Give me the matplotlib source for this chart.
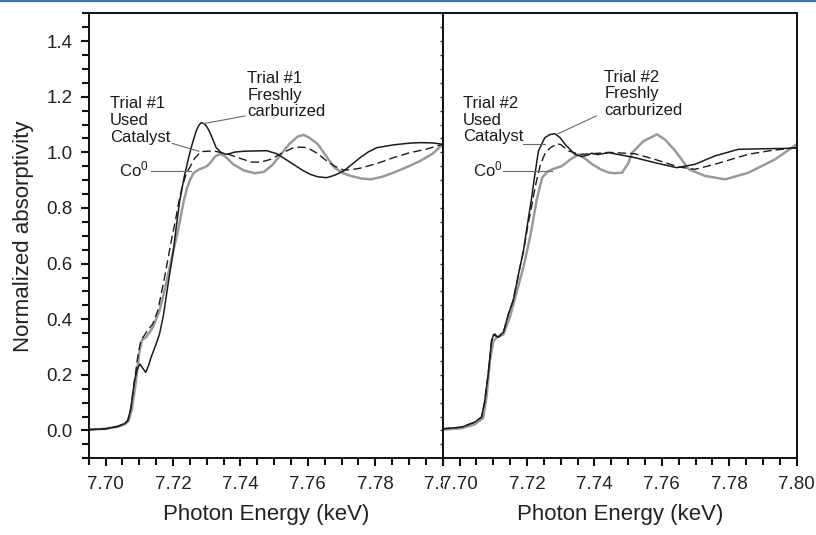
import matplotlib
matplotlib.use("Agg")
import matplotlib.pyplot as plt
from matplotlib.ticker import FixedLocator, MultipleLocator, FormatStrFormatter
from matplotlib.lines import Line2D
from matplotlib.transforms import Bbox, TransformedBbox

plt.rcParams['font.family'] = ['Liberation Sans', 'DejaVu Sans']
plt.rcParams['mathtext.fontset'] = 'custom'
plt.rcParams['mathtext.rm'] = 'Liberation Sans'
plt.rcParams['mathtext.it'] = 'Liberation Sans:italic'

# ---------------- Trial #1 (left panel) ----------------
t1_fresh_x = [7.6950, 7.7000, 7.7037, 7.7057, 7.7066, 7.7075, 7.7086, 7.7094, 7.7102, 7.7108,
              7.7119, 7.7128, 7.7135, 7.7150, 7.7160, 7.7171, 7.7186, 7.7201, 7.7210, 7.7220,
              7.7233, 7.7244, 7.7254, 7.7262, 7.7269, 7.7277, 7.7284, 7.7291, 7.7299, 7.7306,
              7.7314, 7.7328, 7.7343, 7.7358, 7.7370,
              7.7383, 7.7410, 7.7440, 7.7478, 7.7508, 7.7530, 7.7557, 7.7585, 7.7607, 7.7630,
              7.7656, 7.7680, 7.7706, 7.7730, 7.7755, 7.7780, 7.7805, 7.7854, 7.7900, 7.7933,
              7.7970, 7.8000]
t1_fresh_y = [0.003, 0.006, 0.015, 0.025, 0.036, 0.080, 0.180, 0.220, 0.239, 0.228,
              0.209, 0.235, 0.263, 0.311, 0.347, 0.410, 0.530, 0.646, 0.735, 0.826,
              0.910, 0.969, 1.017, 1.050, 1.077, 1.098, 1.107, 1.104, 1.095, 1.080,
              1.059, 1.017, 0.999, 0.993, 0.996,
              1.001, 1.004, 1.005, 1.006, 0.995, 0.978, 0.957, 0.935, 0.921, 0.912,
              0.909, 0.918, 0.933, 0.956, 0.981, 1.002, 1.017, 1.027, 1.033, 1.035,
              1.034, 1.029]

t1_used_x = [7.6950, 7.7000, 7.7037, 7.7057, 7.7066, 7.7075, 7.7086, 7.7096, 7.7105, 7.7111,
             7.7125, 7.7140, 7.7155, 7.7175, 7.7195, 7.7208, 7.7218, 7.7228, 7.7240, 7.7252,
             7.7265, 7.7284, 7.7321, 7.7360, 7.7400, 7.7434, 7.7460, 7.7490, 7.7520, 7.7545,
             7.7562, 7.7590, 7.7607, 7.7630, 7.7656, 7.7680, 7.7706, 7.7730, 7.7755, 7.7805,
             7.7854, 7.7900, 7.7950, 7.8000]
t1_used_y = [0.003, 0.006, 0.015, 0.025, 0.036, 0.080, 0.180, 0.270, 0.325, 0.335,
             0.360, 0.383, 0.431, 0.550, 0.682, 0.760, 0.826, 0.880, 0.925, 0.951,
             0.980, 1.003, 1.005, 0.995, 0.978, 0.965, 0.965, 0.975, 0.995, 1.010,
             1.019, 1.018, 1.011, 0.995, 0.969, 0.950, 0.936, 0.938, 0.943, 0.960,
             0.981, 0.998, 1.011, 1.029]

t1_co_x = [7.6950, 7.7000, 7.7037, 7.7057, 7.7068, 7.7078, 7.7090, 7.7100, 7.7108, 7.7120,
           7.7140, 7.7160, 7.7180, 7.7200, 7.7215, 7.7232, 7.7242, 7.7252, 7.7262, 7.7280,
           7.7291, 7.7300, 7.7311, 7.7325, 7.7340, 7.7355, 7.7379, 7.7410, 7.7443, 7.7470,
           7.7495, 7.7518, 7.7545, 7.7570, 7.7588, 7.7605, 7.7630, 7.7655, 7.7679, 7.7705,
           7.7728, 7.7760, 7.7787, 7.7820, 7.7854, 7.7890, 7.7933, 7.7970, 7.8000]
t1_co_y = [0.003, 0.006, 0.014, 0.022, 0.034, 0.075, 0.175, 0.280, 0.325, 0.335,
           0.370, 0.430, 0.530, 0.640, 0.720, 0.826, 0.873, 0.905, 0.927, 0.940,
           0.945, 0.950, 0.963, 0.985, 0.995, 0.985, 0.957, 0.935, 0.925, 0.930,
           0.955, 0.990, 1.030, 1.057, 1.063, 1.052, 1.029, 0.985, 0.945, 0.925,
           0.915, 0.906, 0.903, 0.912, 0.927, 0.945, 0.969, 0.995, 1.029]

# ---------------- Trial #2 (right panel) ----------------
t2_fresh_x = [7.6949, 7.7006, 7.7045, 7.7065, 7.7074, 7.7085, 7.7095, 7.7101, 7.7105, 7.7110,
              7.7115, 7.7122, 7.7130, 7.7145, 7.7159, 7.7179, 7.7190, 7.7203, 7.7213, 7.7222,
              7.7234, 7.7253, 7.7268, 7.7283, 7.7298, 7.7313, 7.7342, 7.7362, 7.7380, 7.7392,
              7.7410, 7.7442, 7.7460, 7.7520, 7.7579, 7.7644, 7.7698, 7.7757, 7.7827, 7.7906,
              7.8000]
t2_fresh_y = [0.006, 0.012, 0.030, 0.048, 0.100, 0.204, 0.323, 0.345, 0.347, 0.338,
              0.335, 0.345, 0.353, 0.419, 0.467, 0.586, 0.650, 0.754, 0.830, 0.909,
              1.005, 1.053, 1.064, 1.067, 1.053, 1.029, 0.993, 0.985, 0.990, 0.997,
              0.992, 0.999, 0.995, 0.981, 0.963, 0.945, 0.957, 0.987, 1.011, 1.013,
              1.015]

t2_used_x = [7.6949, 7.7006, 7.7045, 7.7065, 7.7074, 7.7085, 7.7095, 7.7101, 7.7108, 7.7115,
             7.7122, 7.7130, 7.7145, 7.7159, 7.7179, 7.7190, 7.7203, 7.7213, 7.7225, 7.7240,
             7.7255, 7.7270, 7.7289, 7.7300, 7.7324, 7.7354, 7.7394, 7.7442, 7.7460, 7.7520,
             7.7579, 7.7648, 7.7698, 7.7757, 7.7856, 7.7926, 7.8000]
t2_used_y = [0.006, 0.012, 0.030, 0.048, 0.100, 0.204, 0.323, 0.342, 0.340, 0.336,
             0.343, 0.352, 0.419, 0.467, 0.586, 0.645, 0.740, 0.800, 0.880, 0.957,
             1.000, 1.017, 1.031, 1.028, 1.005, 0.993, 0.995, 1.000, 0.999, 0.995,
             0.975, 0.948, 0.939, 0.957, 0.993, 1.007, 1.017]

t2_co_x = [7.6949, 7.7006, 7.7045, 7.7070, 7.7080, 7.7090, 7.7100, 7.7110, 7.7130, 7.7150,
           7.7170, 7.7190, 7.7210, 7.7229, 7.7245, 7.7260, 7.7275, 7.7304, 7.7329, 7.7354,
           7.7375, 7.7394, 7.7420, 7.7443, 7.7460, 7.7482, 7.7500, 7.7512, 7.7545, 7.7586,
           7.7610, 7.7640, 7.7680, 7.7729, 7.7788, 7.7857, 7.7936, 7.8000]
t2_co_y = [0.003, 0.008, 0.022, 0.045, 0.120, 0.250, 0.320, 0.335, 0.345, 0.410,
           0.500, 0.590, 0.700, 0.830, 0.909, 0.930, 0.939, 0.951, 0.975, 0.993,
           0.975, 0.957, 0.938, 0.927, 0.925, 0.927, 0.960, 0.999, 1.040, 1.065,
           1.045, 1.005, 0.939, 0.915, 0.903, 0.927, 0.975, 1.029]

xticks_major = [7.70, 7.72, 7.74, 7.76, 7.78, 7.80]
yticks_major = [0.0, 0.2, 0.4, 0.6, 0.8, 1.0, 1.2, 1.4]

W, H = 816, 535
fig = plt.figure(figsize=(W / 100, H / 100), dpi=100)
ax_l = 88.7 / W
ax_w = 354 / W
ax_b = (H - 458.3) / H
ax_h = 445 / H
ax1 = fig.add_axes([ax_l, ax_b, ax_w, ax_h])
ax2 = fig.add_axes([ax_l + ax_w, ax_b, ax_w, ax_h])

fresh_kw = dict(color='#1c1c1c', lw=1.1, solid_joinstyle='round')
used_kw = dict(color='#1c1c1c', lw=1.0, ls=(0, (6, 3)))
co_kw = dict(color='#9a9a9a', lw=1.8, solid_joinstyle='round')

ax1.plot(t1_co_x, t1_co_y, **co_kw)
ax1.plot(t1_used_x, t1_used_y, **used_kw)
ax1.plot(t1_fresh_x, t1_fresh_y, **fresh_kw)
ax2.plot(t2_co_x, t2_co_y, **co_kw)
ax2.plot(t2_used_x, t2_used_y, **used_kw)
ax2.plot(t2_fresh_x, t2_fresh_y, **fresh_kw)

for ax in (ax1, ax2):
    ax.set_xlim(7.695, 7.80)
    ax.set_ylim(-0.1, 1.5)
    ax.xaxis.set_major_locator(FixedLocator(xticks_major))
    ax.xaxis.set_minor_locator(MultipleLocator(0.005))
    ax.xaxis.set_major_formatter(FormatStrFormatter('%.2f'))
    ax.yaxis.set_major_locator(FixedLocator(yticks_major))
    ax.yaxis.set_minor_locator(MultipleLocator(0.05))
    for s in ax.spines.values():
        s.set_linewidth(1.4)
        s.set_color('#111111')
    ax.tick_params(axis='x', which='major', direction='out', length=6, width=1.5,
                   labelsize=13.5, pad=7, colors='#111111', labelcolor='#222222')
    ax.tick_params(axis='x', which='minor', direction='out', length=5, width=1.5,
                   colors='#111111')
    ax.set_xlabel('Photon Energy (keV)', fontsize=16, color='#222222', labelpad=8)

ax1.yaxis.set_major_formatter(FormatStrFormatter('%.1f'))
ax1.tick_params(axis='y', which='major', direction='out', length=5.5, width=1.5,
                labelsize=13.5, pad=6, colors='#111111', labelcolor='#222222')
ax1.tick_params(axis='y', which='minor', direction='out', length=5, width=1.5,
                colors='#111111')
ax1.set_ylabel('Normalized absorptivity', fontsize=16, color='#222222', labelpad=9)

ax2.tick_params(axis='y', which='both', direction='out', length=2.5, width=1.0,
                labelleft=False, colors='#333333')

# annotations
txt_kw = dict(fontsize=12, color='#1a1a1a', ha='left', va='center', linespacing=1.15)
lead_kw = dict(color='#6a6a6a', lw=0.8)

ax1.text(7.7013, 1.115, 'Trial #1\nUsed\nCatalyst', **txt_kw)
ax1.text(7.7420, 1.206, 'Trial #1\nFreshly\ncarburized', **txt_kw)
ax1.text(7.7127, 0.937, r'Co$^{0}$', fontsize=12, color='#1a1a1a', ha='right', va='center')
ax1.plot([7.7135, 7.7252], [0.933, 0.933], **lead_kw)
ax1.plot([7.7198, 7.7277], [1.032, 1.004], **lead_kw)
ax1.plot([7.7414, 7.7290], [1.131, 1.103], **lead_kw)

ax2.text(7.7010, 1.116, 'Trial #2\nUsed\nCatalyst', **txt_kw)
ax2.text(7.7429, 1.210, 'Trial #2\nFreshly\ncarburized', **txt_kw)
ax2.text(7.7127, 0.937, r'Co$^{0}$', fontsize=12, color='#1a1a1a', ha='right', va='center')
ax2.plot([7.7130, 7.7273], [0.933, 0.933], **lead_kw)
ax2.plot([7.7189, 7.7254], [1.029, 1.029], **lead_kw)
ax2.plot([7.7406, 7.7292], [1.131, 1.067], **lead_kw)

# top blue rule
fig.add_artist(Line2D([0, 1], [1 - 1.0 / H, 1 - 1.0 / H], transform=fig.transFigure,
                      color='#3f74b8', lw=1.6))

# clip the left panel's 7.80 label at the panel boundary (as in the reference)
fig.canvas.draw()
clip = TransformedBbox(Bbox([[-1.0, -1.0], [1.0, 2.0]]), ax1.transAxes)
for tick in ax1.xaxis.get_major_ticks():
    if abs(tick.get_loc() - 7.80) < 1e-6:
        tick.label1.set_clip_box(clip)
        tick.label1.set_clip_on(True)

fig.savefig('out.png', dpi=100)
